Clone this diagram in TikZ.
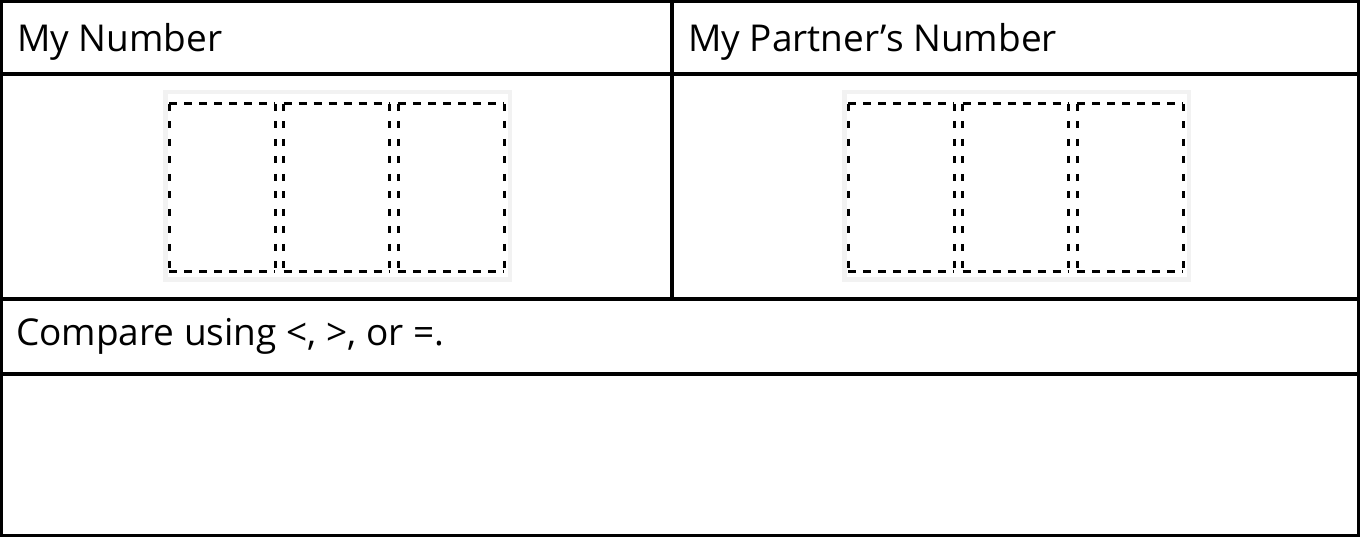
\documentclass[tikz,border=0pt]{standalone}
\usepackage{fontspec}
\setmainfont{Open Sans}
\definecolor{framegray}{HTML}{F2F2F2}
\begin{document}
\begin{tikzpicture}[x=1pt,y=-1pt,
  lbl/.style={anchor=base west,inner sep=0pt,font=\fontsize{37}{42}\selectfont},
  rule/.style={line width=3.2pt,black},
  hdash/.style={line width=3pt,dash pattern=on 8pt off 7pt},
  vdash/.style={line width=3pt,dash pattern=on 7pt off 10.5pt}]
\useasboundingbox (0,0) rectangle (1360,537);
% outer border
\draw[line width=3pt] (1.5,1.5) rectangle (1358.5,535.5);
% rules
\draw[rule] (0,74) -- (1360,74);
\draw[rule] (0,299) -- (1360,299);
\draw[rule] (0,374) -- (1360,374);
\draw[rule] (672,0) -- (672,299);
% labels
\node[lbl] (mine) at (17,52) {My Number};
\node[lbl] (partner) at (688,52) {My Partner’s Number};
\node[lbl] (cmp) at (16,345) {Compare using <, >, or =.};
% digit card frames
\foreach \ox in {0,679}{
  \begin{scope}[xshift=\ox]
    \fill[framegray] (163,90) rectangle (512,282);
    \fill[white] (167.5,94.5) rectangle (507.5,277.5);
    \foreach \bx in {169,283.5,398}{
      \draw[hdash] (\bx,104) -- (\bx+106,104);
      \draw[hdash] (\bx,272) -- (\bx+106,272);
      \draw[vdash] (\bx,104) -- (\bx,272);
      \draw[vdash] (\bx+106,104) -- (\bx+106,272);
    }
  \end{scope}
}
\end{tikzpicture}
\end{document}
